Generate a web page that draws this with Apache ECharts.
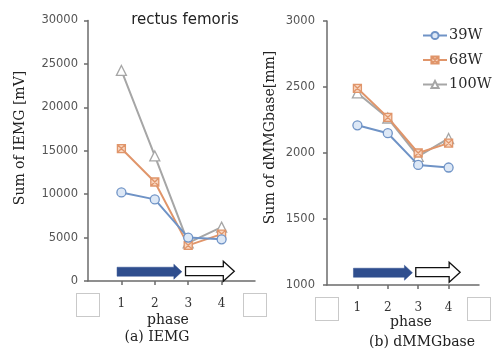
<!DOCTYPE html>
<html>
<head>
<meta charset="utf-8">
<script src="https://cdn.jsdelivr.net/npm/echarts@6/dist/echarts.min.js"></script>
<style>
html, body { margin: 0; padding: 0; background: #fff; }
#chart { width: 494px; height: 352px; }
</style>
</head>
<body>
<div id="chart"></div>
<script>
// Phase numbers on the x axis
const phases = [1, 2, 3, 4];
const loadNames = ['39W', '68W', '100W'];

// (a) Sum of IEMG [mV] per phase
const iemg39W = [10200, 9400, 5000, 4800];
const iemg68W = [15250, 11400, 4100, 5400];
const iemg100W = [24250, 14400, 4400, 6200];

// (b) Sum of dMMGbase [mm] per phase
const mmg39W = [2210, 2150, 1910, 1890];
const mmg68W = [2490, 2270, 2000, 2075];
const mmg100W = [2455, 2265, 1975, 2110];

// Phase arrows drawn near the bottom of each panel: [from phase, to phase]
const filledArrowSpan = [0.87, 2.81];
const hollowArrowSpan = [2.92, 4.38];

const SERIF = 'DejaVu Serif';
const SANS = 'DejaVu Sans';
const AXIS_COLOR = '#6b6b6b';

const styles = [
  { color: '#6f93c6', symbol: 'circle', size: 9, fill: '#dde8f6' },
  { color: '#e0956a', symbol: 'path://M0,0L10,0L10,10L0,10Z M0,0L10,10 M10,0L0,10', size: 8, fill: '#f8d6c0' },
  { color: '#a6a6a6', symbol: 'triangle', size: 10, fill: '#ffffff' }
];

function pairs(values) {
  return phases.map((p, i) => [p, values[i]]);
}

function makeSeries(name, values, idx, axisIdx) {
  const s = styles[idx];
  return {
    name: name,
    type: 'line',
    xAxisIndex: axisIdx,
    yAxisIndex: axisIdx,
    data: pairs(values),
    symbol: s.symbol,
    symbolSize: s.size,
    showAllSymbol: true,
    z: 3 - idx + 2,
    lineStyle: { color: s.color, width: 2 },
    itemStyle: { color: s.fill, borderColor: s.color, borderWidth: 1.3 }
  };
}

function xAxisDef(gridIndex) {
  return {
    type: 'value',
    gridIndex: gridIndex,
    min: 0,
    max: 5,
    interval: 1,
    splitLine: { show: false },
    axisLine: { lineStyle: { color: AXIS_COLOR, width: 1.5 } },
    axisTick: { show: true, length: 4, customValues: [1, 2, 3, 4], lineStyle: { color: AXIS_COLOR, width: 1.5 } },
    axisLabel: {
      margin: 13,
      showMinLabel: true,
      showMaxLabel: true,
      formatter: function (v) {
        return (v === 0 || v === 5) ? '{box| }' : '{n|' + v + '}';
      },
      rich: {
        box: { width: 22, height: 22, borderColor: '#c9c9c9', borderWidth: 1, backgroundColor: '#ffffff' },
        n: { fontFamily: SERIF, fontSize: 12, color: '#333', height: 20, lineHeight: 20 }
      }
    }
  };
}

function yAxisDef(gridIndex, min, max, interval, margin) {
  return {
    type: 'value',
    gridIndex: gridIndex,
    min: min,
    max: max,
    interval: interval,
    splitLine: { show: false },
    axisLine: { show: true, lineStyle: { color: AXIS_COLOR, width: 1.5 } },
    axisTick: { show: true, length: 4, lineStyle: { color: AXIS_COLOR, width: 1.5 } },
    axisLabel: {
      margin: margin,
      fontFamily: SANS,
      fontSize: 11.5,
      color: '#555',
      formatter: function (v) { return String(v); }
    }
  };
}

const chart = echarts.init(document.getElementById('chart'), null, { renderer: 'canvas' });

const option = {
  animation: false,
  backgroundColor: '#ffffff',
  grid: [
    { left: 88, top: 20.5, width: 167, height: 260.5 },
    { left: 327, top: 21, width: 167, height: 264 }
  ],
  xAxis: [xAxisDef(0), xAxisDef(1)],
  yAxis: [yAxisDef(0, 0, 30000, 5000, 10), yAxisDef(1, 1000, 3000, 500, 12)],
  legend: {
    orient: 'vertical',
    left: 417,
    top: 23,
    itemWidth: 24,
    itemHeight: 9,
    itemGap: 9.5,
    data: loadNames,
    textStyle: { fontFamily: SERIF, fontSize: 14.5, color: '#2a2a2a', padding: [0, 0, 0, -3] }
  },
  series: [
    makeSeries(loadNames[0], iemg39W, 0, 0),
    makeSeries(loadNames[1], iemg68W, 1, 0),
    makeSeries(loadNames[2], iemg100W, 2, 0),
    makeSeries(loadNames[0], mmg39W, 0, 1),
    makeSeries(loadNames[1], mmg68W, 1, 1),
    makeSeries(loadNames[2], mmg100W, 2, 1)
  ]
};
chart.setOption(option);

// Arrow polygon along the x direction, in pixels
function arrowPoints(x0, x1, yc, shaftHalf, headHalf, headLen) {
  const hx = x1 - headLen;
  return [
    [x0, yc - shaftHalf], [hx, yc - shaftHalf], [hx, yc - headHalf],
    [x1, yc], [hx, yc + headHalf], [hx, yc + shaftHalf], [x0, yc + shaftHalf]
  ];
}

function phaseArrows(gridIndex, yValue) {
  const a = chart.convertToPixel({ gridIndex: gridIndex }, [filledArrowSpan[0], yValue]);
  const b = chart.convertToPixel({ gridIndex: gridIndex }, [filledArrowSpan[1], yValue]);
  const c = chart.convertToPixel({ gridIndex: gridIndex }, [hollowArrowSpan[0], yValue]);
  const d = chart.convertToPixel({ gridIndex: gridIndex }, [hollowArrowSpan[1], yValue]);
  return [
    {
      type: 'polygon',
      shape: { points: arrowPoints(a[0], b[0], a[1], 4.5, 7.5, 8) },
      style: { fill: '#2f4e8e', stroke: '#2f4e8e', lineWidth: 0.5 },
      z: 10
    },
    {
      type: 'polygon',
      shape: { points: arrowPoints(c[0], d[0], c[1] - 0.5, 4.5, 10, 11) },
      style: { fill: '#ffffff', stroke: '#111111', lineWidth: 1.3 },
      z: 10
    }
  ];
}

function label(text, x, y, font, size, rotation) {
  return {
    type: 'text',
    x: x,
    y: y,
    rotation: rotation || 0,
    style: {
      text: text,
      fontFamily: font,
      fontSize: size,
      fill: '#222',
      align: 'center',
      verticalAlign: 'middle'
    },
    z: 10
  };
}

chart.setOption({
  graphic: [
    ...phaseArrows(0, 1070),
    ...phaseArrows(1, 1093),
    label('rectus femoris', 185, 20, SANS, 15),
    label('Sum of IEMG [mV]', 20, 138, SERIF, 14, Math.PI / 2),
    label('Sum of dMMGbase[mm]', 270, 137.5, SERIF, 14, Math.PI / 2),
    label('phase', 168, 320, SERIF, 14),
    label('phase', 411, 322, SERIF, 14),
    label('(a) IEMG', 157, 337, SERIF, 14),
    label('(b) dMMGbase', 422, 342, SERIF, 14)
  ]
});
</script>
</body>
</html>
